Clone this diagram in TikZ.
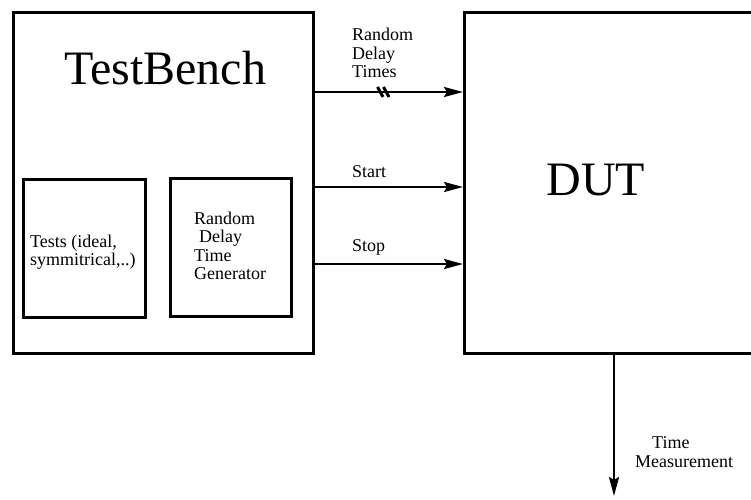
\documentclass[tikz,border=0pt]{standalone}
\usepackage{fontspec}
\setmainfont{Liberation Serif}
\usetikzlibrary{arrows.meta}
\begin{document}
\begin{tikzpicture}[x=1pt,y=-1pt,
  box/.style={draw,line width=2.8pt,inner sep=0pt,anchor=north west},
  sig/.style={line width=2.5pt,-{Stealth[length=19pt,width=10pt,inset=3pt]}},
  lbl/.style={font=\fontsize{18}{18.5}\selectfont,align=left,inner sep=0pt},
  big/.style={font=\fontsize{48}{50}\selectfont,inner sep=0pt}]
\useasboundingbox (0,0) rectangle (751,499);
\clip (0,0) rectangle (751,499);

% blocks
\node[box,minimum width=300pt,minimum height=341pt] (tb) at (12,11) {};
\node[box,minimum width=122pt,minimum height=138pt] (tests) at (22,178) {};
\node[box,minimum width=121pt,minimum height=138pt] (gen) at (169,177) {};
\node[box,minimum width=320pt,minimum height=341pt] (dut) at (463,11) {};

\node[big] (tbname) at (165,68) {TestBench};
\node[big] (dutname) at (596,180) {DUT};

\node[lbl,anchor=west] (teststxt) at (30,252) {Tests (ideal,\\symmitrical,..)};
\node[lbl,anchor=west] (gentxt) at (194,246) {Random\\\hspace{5pt}Delay\\Time\\Generator};

% signal rows
\coordinate (r1) at (0,92);
\coordinate (r2) at (0,187);
\coordinate (r3) at (0,264);
\coordinate (m) at (614,0);
\coordinate (mend) at (614,496);

\draw[sig] (tb.east |- r1) -- (dut.west |- r1);
\draw[sig] (tb.east |- r2) -- (dut.west |- r2);
\draw[sig] (tb.east |- r3) -- (dut.west |- r3);
\draw[sig] (dut.south -| m) -- (mend);

% bus marker (double slash)
\coordinate (bus) at (383,92);
\draw[line width=3pt] ([xshift=-5.5pt,yshift=5pt]bus) -- ([xshift=0pt,yshift=-5pt]bus);
\draw[line width=3pt] ([xshift=0.5pt,yshift=5pt]bus) -- ([xshift=6pt,yshift=-5pt]bus);

\node[lbl,anchor=west] (l1) at (352,53) {Random\\Delay\\Times};
\node[lbl,anchor=west] (l2) at (352,172) {Start};
\node[lbl,anchor=west] (l3) at (352,247) {Stop};
\node[lbl,anchor=west] (l4) at (635,452) {\hspace{17pt}Time\\Measurement};
\end{tikzpicture}
\end{document}
